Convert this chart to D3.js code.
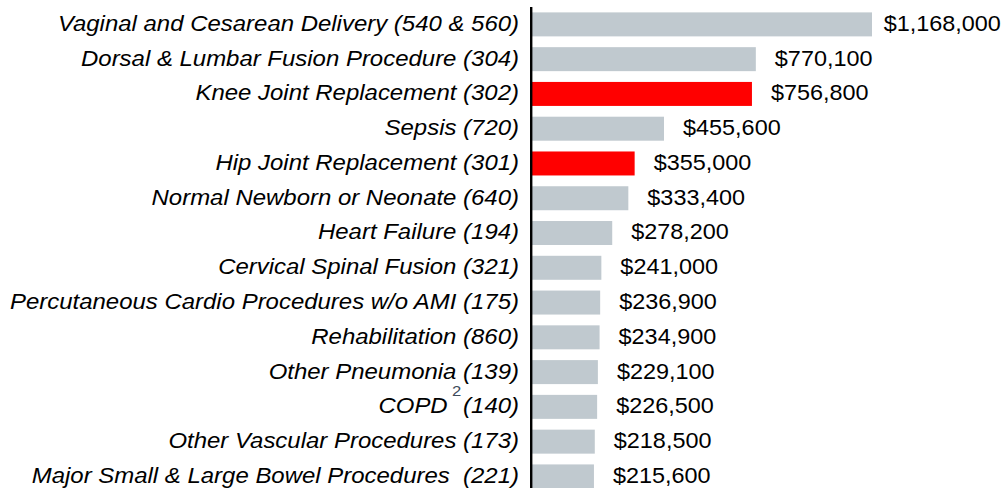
<!DOCTYPE html>
<html><head><meta charset="utf-8">
<script src="https://cdn.jsdelivr.net/npm/d3@7"></script>
<style>
html,body{margin:0;padding:0;background:#fff;}
svg{display:block;}
</style></head>
<body>
<svg id="chart" width="1006" height="488"></svg>
<script>
const categories = [
  "Vaginal and Cesarean Delivery (540 & 560)",
  "Dorsal & Lumbar Fusion Procedure (304)",
  "Knee Joint Replacement (302)",
  "Sepsis (720)",
  "Hip Joint Replacement (301)",
  "Normal Newborn or Neonate (640)",
  "Heart Failure (194)",
  "Cervical Spinal Fusion (321)",
  "Percutaneous Cardio Procedures w/o AMI (175)",
  "Rehabilitation (860)",
  "Other Pneumonia (139)",
  "COPD|2|(140)",
  "Other Vascular Procedures (173)",
  "Major Small & Large Bowel Procedures  (221)"
];
const values = [1168000, 770100, 756800, 455600, 355000, 333400, 278200, 241000, 236900, 234900, 229100, 226500, 218500, 215600];
const highlighted = [false, false, true, false, true, false, false, false, false, false, false, false, false, false];

const W = 1006, H = 488;
const svg = d3.select("#chart");
const FONT = "'Liberation Sans', Arial, sans-serif";
const LABEL_SX = 1.115, VALUE_SX = 1.09, FS = 21.5;

const x = d3.scaleLinear().domain([0, 1168000]).range([531, 872]);
const y = d3.scaleBand().domain(d3.range(categories.length))
  .range([7, 493.8]).paddingInner(0.31).paddingOuter(0.155);

const data = categories.map((c, i) => ({c, v: values[i], h: highlighted[i], i}));

// bars
svg.append("g").selectAll("rect").data(data).join("rect")
  .attr("x", x(0))
  .attr("y", d => y(d.i))
  .attr("width", d => x(d.v) - x(0))
  .attr("height", y.bandwidth())
  .attr("fill", d => d.h ? "#ff0000" : "#c0c9cf");

// axis line
svg.append("line").attr("x1", 531.2).attr("x2", 531.2).attr("y1", 7).attr("y2", H)
  .attr("stroke", "#000").attr("stroke-width", 2.4);

// category labels
const fmt = d3.format(",");
const lab = svg.append("g").selectAll("text").data(data).join("text")
  .attr("transform", d => `translate(519,${y(d.i) + y.bandwidth() / 2}) scale(${LABEL_SX},1)`)
  .attr("dy", "0.3em")
  .attr("text-anchor", "end")
  .attr("font-family", FONT)
  .attr("font-style", "italic")
  .attr("font-size", FS)
  .attr("fill", "#000");
lab.each(function(d) {
  const t = d3.select(this);
  const parts = d.c.split("|");
  if (parts.length === 1) { t.text(d.c).attr("xml:space", "preserve").style("white-space", "pre"); return; }
  t.append("tspan").text(parts[0]);
  t.append("tspan").text(parts[1]).attr("font-style", "normal").attr("font-size", 15)
    .attr("fill", "#3d4a5a").attr("dx", 4).attr("dy", -17);
  t.append("tspan").text(parts[2]).attr("dx", 1.5).attr("dy", 17);
});

// value labels
svg.append("g").selectAll("text").data(data).join("text")
  .attr("dy", "0.3em")
  .attr("font-family", FONT)
  .attr("font-size", FS)
  .attr("fill", "#000")
  .text(d => "$" + fmt(d.v))
  .attr("transform", function(d) {
    const w = this.getComputedTextLength() * VALUE_SX;
    const tx = Math.min(x(d.v) + 19, W - w - 5);
    return `translate(${tx},${y(d.i) + y.bandwidth() / 2}) scale(${VALUE_SX},1)`;
  });
</script>
</body></html>
